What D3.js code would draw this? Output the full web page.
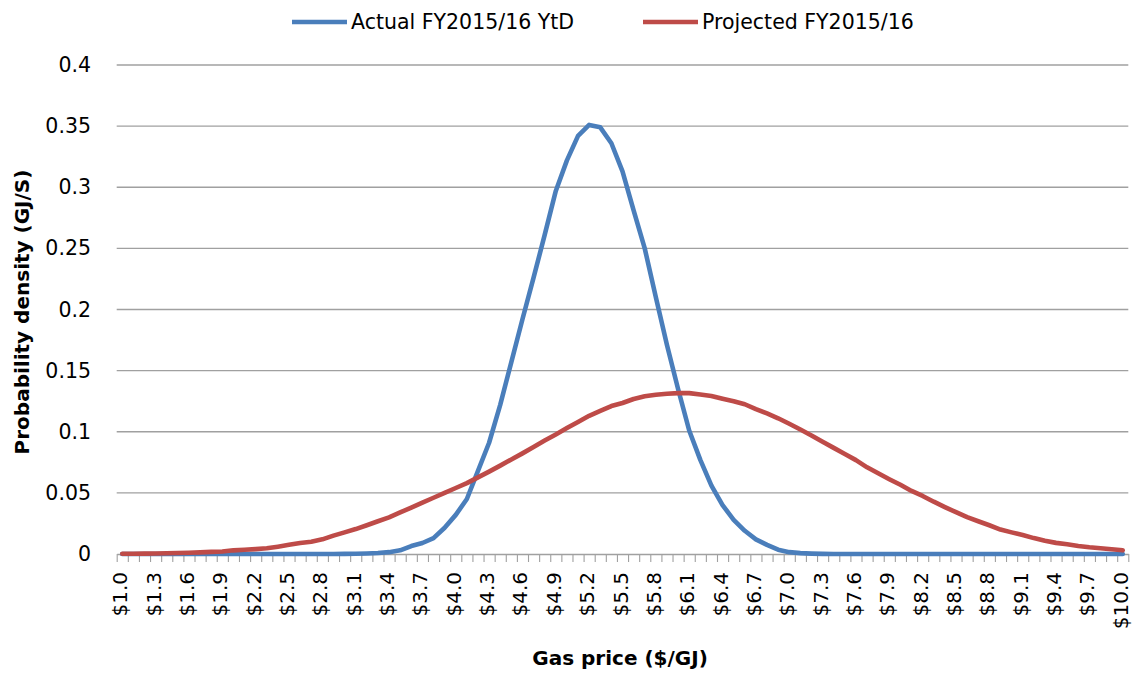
<!DOCTYPE html>
<html>
<head>
<meta charset="utf-8">
<script src="https://cdn.jsdelivr.net/npm/d3@7"></script>
<style>
  html, body { margin: 0; padding: 0; background: #fff; }
  svg { display: block; font-family: "DejaVu Sans", sans-serif; }
</style>
</head>
<body>
<svg id="chart" width="1132" height="675"></svg>
<script>
// Gas price categories, $1.0 to $10.0 in steps of $0.1
const categories = [
  "$1.0","$1.1","$1.2","$1.3","$1.4","$1.5","$1.6","$1.7","$1.8","$1.9",
  "$2.0","$2.1","$2.2","$2.3","$2.4","$2.5","$2.6","$2.7","$2.8","$2.9",
  "$3.0","$3.1","$3.2","$3.3","$3.4","$3.5","$3.6","$3.7","$3.8","$3.9",
  "$4.0","$4.1","$4.2","$4.3","$4.4","$4.5","$4.6","$4.7","$4.8","$4.9",
  "$5.0","$5.1","$5.2","$5.3","$5.4","$5.5","$5.6","$5.7","$5.8","$5.9",
  "$6.0","$6.1","$6.2","$6.3","$6.4","$6.5","$6.6","$6.7","$6.8","$6.9",
  "$7.0","$7.1","$7.2","$7.3","$7.4","$7.5","$7.6","$7.7","$7.8","$7.9",
  "$8.0","$8.1","$8.2","$8.3","$8.4","$8.5","$8.6","$8.7","$8.8","$8.9",
  "$9.0","$9.1","$9.2","$9.3","$9.4","$9.5","$9.6","$9.7","$9.8","$9.9",
  "$10.0"
];

// Actual FY2015/16 year-to-date probability density
const actualYtd = [
  0,0,0,0,0,0,0,0,0,0,
  0,0,0,0,0,0,0,0,0,0,
  0.0001,0.0002,0.0004,0.0008,0.0015,0.003,0.0065,0.009,0.013,0.0215,
  0.032,0.045,0.068,0.091,0.122,0.157,0.192,0.226,0.261,0.297,
  0.322,0.342,0.351,0.349,0.336,0.313,0.281,0.25,0.21,0.171,
  0.135,0.101,0.077,0.056,0.04,0.028,0.019,0.012,0.0075,0.0035,
  0.0015,0.0007,0.0003,0.0001,0,0,0,0,0,0,
  0,0,0,0,0,0,0,0,0,0,
  0,0,0,0,0,0,0,0,0,0,
  0
];

// Projected FY2015/16 probability density
const projected = [
  0.0002,0.0002,0.0003,0.0004,0.0006,0.0008,0.001,0.0013,0.0017,0.002,
  0.003,0.0035,0.004,0.0047,0.006,0.0075,0.009,0.010,0.012,0.015,
  0.0177,0.0204,0.0235,0.0268,0.030,0.034,0.038,0.042,0.046,0.050,
  0.054,0.058,0.0627,0.0674,0.0723,0.0773,0.0823,0.0875,0.0928,0.0978,
  0.103,0.108,0.113,0.117,0.121,0.1235,0.1268,0.129,0.1302,0.1311,
  0.1316,0.1316,0.1305,0.1292,0.127,0.125,0.1225,0.1185,0.115,0.111,
  0.1065,0.1018,0.097,0.0918,0.0868,0.0818,0.0768,0.0709,0.066,0.0612,
  0.0566,0.0516,0.0475,0.0428,0.0384,0.0342,0.0301,0.0268,0.0235,0.0200,
  0.0177,0.0155,0.013,0.0108,0.0091,0.008,0.0066,0.0055,0.0047,0.0039,
  0.003
];

const seriesNames = ["Actual FY2015/16 YtD", "Projected FY2015/16"];
const seriesColors = ["#4A7EBB", "#BE4B48"];

const yTicks = [0, 0.05, 0.1, 0.15, 0.2, 0.25, 0.3, 0.35, 0.4];
const yTickLabels = ["0", "0.05", "0.1", "0.15", "0.2", "0.25", "0.3", "0.35", "0.4"];
const labelEvery = 3;

const xTitle = "Gas price ($/GJ)";
const yTitle = "Probability density (GJ/S)";

const svg = d3.select("#chart");
const plot = { left: 116.7, right: 1128.3, top: 65, bottom: 554 };
const labelSize = 20.5;
const xLabelSize = 20;
const titleSize = 20;

const x = d3.scaleBand().domain(categories).range([plot.left, plot.right]).padding(0);
const cx = d => x(d) + x.bandwidth() / 2;
const y = d3.scaleLinear().domain([0, 0.4]).range([plot.bottom, plot.top]);

// horizontal gridlines
svg.append("g")
  .selectAll("line")
  .data(yTicks.slice(1))
  .join("line")
  .attr("x1", plot.left).attr("x2", plot.right)
  .attr("y1", d => y(d)).attr("y2", d => y(d))
  .attr("stroke", "#a0a0a0").attr("stroke-width", 1.3);

// y tick labels
svg.append("g")
  .selectAll("text")
  .data(yTicks)
  .join("text")
  .attr("x", 91)
  .attr("y", d => y(d))
  .attr("text-anchor", "end")
  .attr("dominant-baseline", "central")
  .attr("font-size", labelSize)
  .attr("fill", "#000")
  .text((d, i) => yTickLabels[i]);

// category axis: tick marks sit on the boundaries between categories
const boundary = d3.scaleLinear().domain([0, categories.length]).range([plot.left, plot.right]);
const xAxisG = svg.append("g")
  .attr("transform", `translate(0,${plot.bottom})`)
  .call(d3.axisBottom(boundary)
    .tickValues(d3.range(categories.length + 1))
    .tickFormat("")
    .tickSize(8)
    .tickSizeOuter(0));
xAxisG.select(".domain").attr("stroke", "#a0a0a0").attr("stroke-width", 1.3);
xAxisG.selectAll(".tick line").attr("stroke", "#a0a0a0").attr("stroke-width", 1.1);

// rotated category labels, every third one
svg.append("g")
  .selectAll("text")
  .data(categories.filter((d, i) => i % labelEvery === 0))
  .join("text")
  .attr("transform", d => `translate(${cx(d) - 2},${plot.bottom + 18}) rotate(-90)`)
  .attr("text-anchor", "end")
  .attr("dominant-baseline", "central")
  .attr("font-size", xLabelSize)
  .attr("fill", "#000")
  .text(d => d);

// series lines (projected drawn last, so it sits on top)
const line = d3.line()
  .x((d, i) => cx(categories[i]))
  .y(d => y(d))
  .curve(d3.curveLinear);

[actualYtd, projected].forEach((vals, k) => {
  svg.append("path")
    .datum(vals)
    .attr("d", line)
    .attr("fill", "none")
    .attr("stroke", seriesColors[k])
    .attr("stroke-width", 4.6)
    .attr("stroke-linejoin", "round")
    .attr("stroke-linecap", "round");
});

// legend
const legendX = [292, 643];
const legend = svg.append("g");
seriesNames.forEach((name, k) => {
  legend.append("line")
    .attr("x1", legendX[k]).attr("x2", legendX[k] + 55)
    .attr("y1", 22).attr("y2", 22)
    .attr("stroke", seriesColors[k]).attr("stroke-width", 4.6);
  legend.append("text")
    .attr("x", legendX[k] + 59).attr("y", 22)
    .attr("dominant-baseline", "central")
    .attr("font-size", labelSize)
    .attr("fill", "#000")
    .text(name);
});

// axis titles
svg.append("text")
  .attr("x", 620).attr("y", 658)
  .attr("text-anchor", "middle")
  .attr("dominant-baseline", "central")
  .attr("font-size", titleSize)
  .attr("font-weight", "bold")
  .attr("fill", "#000")
  .text(xTitle);

svg.append("text")
  .attr("transform", "translate(22,312) rotate(-90)")
  .attr("text-anchor", "middle")
  .attr("dominant-baseline", "central")
  .attr("font-size", titleSize)
  .attr("font-weight", "bold")
  .attr("fill", "#000")
  .text(yTitle);
</script>
</body>
</html>
